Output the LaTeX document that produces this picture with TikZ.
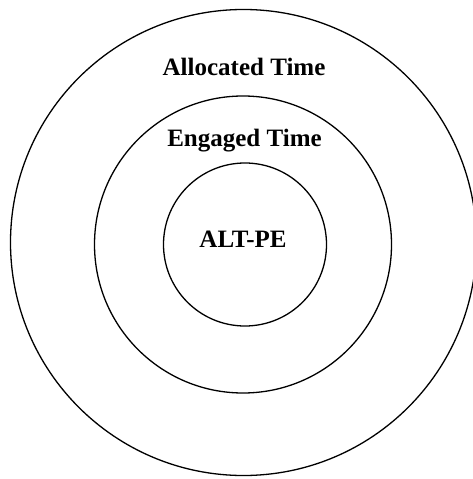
\documentclass[tikz,border=0pt]{standalone}
\usepackage{fontspec}
\setmainfont{Liberation Serif}
\usepackage{tikz}
\tikzset{
    ringcircle/.style={draw, circle, line width=1.3bp, inner sep=0pt},
    ringlabel/.style={anchor=base, inner sep=0pt, font=\fontsize{25bp}{29bp}\selectfont\bfseries}
}

\begin{document}
\begin{tikzpicture}[x=1bp, y=-1bp]
    \useasboundingbox (0,0) rectangle (473,479);
    \node[ringcircle, minimum size=466bp] (allocated) at (243.5,242.5) {};
    \node[ringcircle, minimum size=297bp] (engaged) at (243,244.5) {};
    \node[ringcircle, minimum size=163bp] (altpe) at (245,244.5) {};

    \node[ringlabel] (allocatedtext) at (244,76) {Allocated Time};
    \node[ringlabel] (engagedtext) at (244.5,147) {Engaged Time};
    \node[ringlabel] (altpetext) at (243,247) {ALT-PE};
\end{tikzpicture}
\end{document}
